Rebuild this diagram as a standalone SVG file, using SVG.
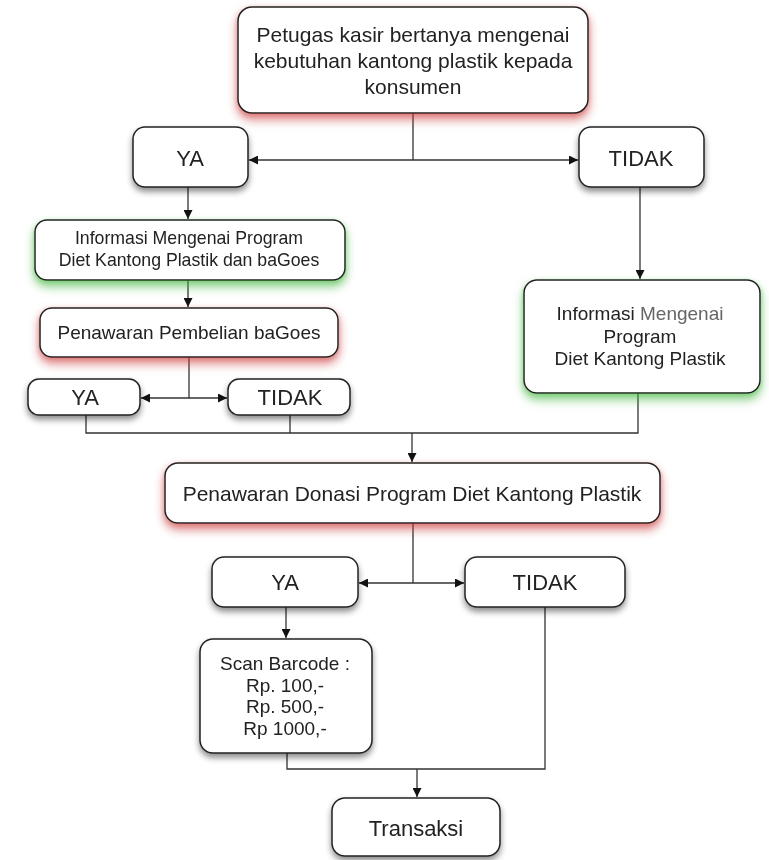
<svg xmlns="http://www.w3.org/2000/svg" width="769" height="860" viewBox="0 0 769 860">
<defs>
<style>
.box{fill:#fff;stroke:#222;stroke-width:1.5}
.t{font-family:"Liberation Sans",Arial,sans-serif;fill:#222;text-anchor:middle}
.c{fill:none;stroke:#333;stroke-width:1.3}
</style>
<marker id="ah" viewBox="0 0 10 10" refX="10" refY="5" markerWidth="10" markerHeight="9" markerUnits="userSpaceOnUse" orient="auto">
<path d="M0,0 L10,5 L0,10 z" fill="#111"/>
</marker>
<filter id="sh" x="-20%" y="-30%" width="140%" height="170%">
<feDropShadow dx="0" dy="4" stdDeviation="3" flood-color="#000" flood-opacity="0.45"/>
</filter>
<filter id="red" x="-20%" y="-30%" width="140%" height="170%">
<feDropShadow dx="0" dy="5" stdDeviation="5" flood-color="#e23a3a" flood-opacity="0.55"/>
<feDropShadow dx="0" dy="2" stdDeviation="2" flood-color="#000" flood-opacity="0.3"/>
</filter>
<filter id="green" x="-20%" y="-30%" width="140%" height="170%">
<feDropShadow dx="0" dy="5" stdDeviation="5" flood-color="#3fc93a" flood-opacity="0.55"/>
<feDropShadow dx="0" dy="2" stdDeviation="2" flood-color="#000" flood-opacity="0.3"/>
</filter>
</defs>
<rect width="769" height="860" fill="#fff"/>

<g id="connectors">
<path class="c" d="M413,113 V160"/>
<path class="c" d="M413,160 H249" marker-end="url(#ah)"/>
<path class="c" d="M413,160 H578" marker-end="url(#ah)"/>
<path class="c" d="M188,187 V219" marker-end="url(#ah)"/>
<path class="c" d="M640,187 V279" marker-end="url(#ah)"/>
<path class="c" d="M188,280 V307" marker-end="url(#ah)"/>
<path class="c" d="M189,357 V398"/>
<path class="c" d="M189,398 H141" marker-end="url(#ah)"/>
<path class="c" d="M189,398 H227" marker-end="url(#ah)"/>
<path class="c" d="M86,415 V433 H638 V393"/>
<path class="c" d="M290,415 V433"/>
<path class="c" d="M412,433 V462" marker-end="url(#ah)"/>
<path class="c" d="M413,523 V583"/>
<path class="c" d="M413,583 H359" marker-end="url(#ah)"/>
<path class="c" d="M413,583 H464" marker-end="url(#ah)"/>
<path class="c" d="M286,607 V638" marker-end="url(#ah)"/>
<path class="c" d="M287,753 V769 H545 V607"/>
<path class="c" d="M417,769 V797" marker-end="url(#ah)"/>
</g>

<g id="n-start" filter="url(#red)">
<rect class="box" x="238" y="7" width="350" height="106" rx="14"/>
<text class="t" font-size="21" x="413" y="42">Petugas kasir bertanya mengenai</text>
<text class="t" font-size="21" x="413" y="68">kebutuhan kantong plastik kepada</text>
<text class="t" font-size="21" x="413" y="94">konsumen</text>
</g>

<g id="n-ya1" filter="url(#sh)">
<rect class="box" x="133" y="127" width="115" height="60" rx="12"/>
<text class="t" font-size="22" x="190" y="166">YA</text>
</g>

<g id="n-tidak1" filter="url(#sh)">
<rect class="box" x="579" y="127" width="125" height="60" rx="12"/>
<text class="t" font-size="22" x="641" y="166">TIDAK</text>
</g>

<g id="n-info1" filter="url(#green)">
<rect class="box" x="35" y="220" width="310" height="60" rx="12"/>
<text class="t" font-size="17.7" x="189" y="244">Informasi Mengenai Program</text>
<text class="t" font-size="17.7" x="189" y="266">Diet Kantong Plastik dan baGoes</text>
</g>

<g id="n-beli" filter="url(#red)">
<rect class="box" x="40" y="308" width="298" height="49" rx="12"/>
<text class="t" font-size="19" x="189" y="339">Penawaran Pembelian baGoes</text>
</g>

<g id="n-ya2" filter="url(#sh)">
<rect class="box" x="28" y="379" width="112" height="36" rx="11"/>
<text class="t" font-size="22" x="85" y="405">YA</text>
</g>

<g id="n-tidak2" filter="url(#sh)">
<rect class="box" x="228" y="379" width="122" height="36" rx="11"/>
<text class="t" font-size="22" x="290" y="405">TIDAK</text>
</g>

<g id="n-info2" filter="url(#green)">
<rect class="box" x="524" y="280" width="236" height="113" rx="13"/>
<text class="t" font-size="19" x="640" y="320">Informasi <tspan fill="#666">Mengenai</tspan></text>
<text class="t" font-size="19" x="640" y="343">Program</text>
<text class="t" font-size="19" x="640" y="365">Diet Kantong Plastik</text>
</g>

<g id="n-donasi" filter="url(#red)">
<rect class="box" x="165" y="463" width="495" height="60" rx="13"/>
<text class="t" font-size="21" x="412" y="501">Penawaran Donasi Program Diet Kantong Plastik</text>
</g>

<g id="n-ya3" filter="url(#sh)">
<rect class="box" x="212" y="557" width="146" height="50" rx="12"/>
<text class="t" font-size="22" x="285" y="590">YA</text>
</g>

<g id="n-tidak3" filter="url(#sh)">
<rect class="box" x="465" y="557" width="160" height="50" rx="12"/>
<text class="t" font-size="22" x="545" y="590">TIDAK</text>
</g>

<g id="n-scan" filter="url(#sh)">
<rect class="box" x="200" y="639" width="172" height="114" rx="13"/>
<text class="t" font-size="19" x="285" y="670">Scan Barcode :</text>
<text class="t" font-size="19" x="285" y="692">Rp. 100,-</text>
<text class="t" font-size="19" x="285" y="713">Rp. 500,-</text>
<text class="t" font-size="19" x="285" y="735">Rp 1000,-</text>
</g>

<g id="n-transaksi" filter="url(#sh)">
<rect class="box" x="332" y="798" width="168" height="58" rx="13"/>
<text class="t" font-size="22" x="416" y="836">Transaksi</text>
</g>
</svg>
